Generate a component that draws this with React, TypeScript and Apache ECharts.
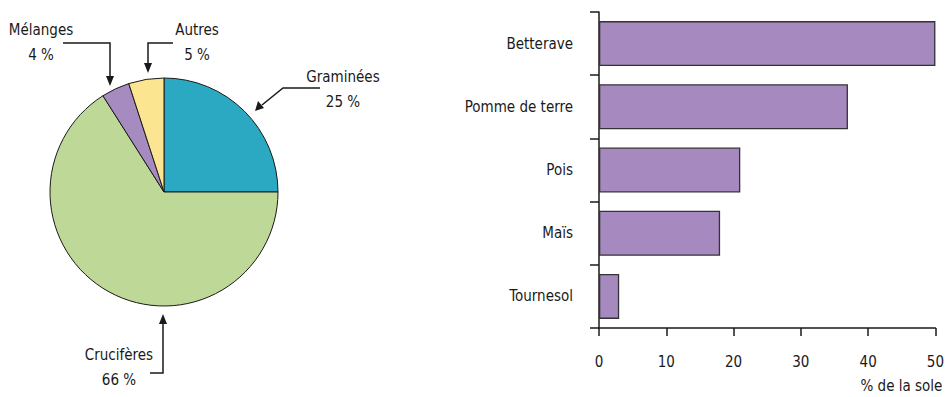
import React, { useEffect, useRef } from "react";
import * as echarts from "echarts";

const pieNames = ["Graminées", "Crucifères", "Mélanges", "Autres"];
const pieValues = [25, 66, 4, 5];
const pieColors = ["#2BA9C3", "#BED898", "#A68BC0", "#FBE590"];

const barCategories = ["Betterave", "Pomme de terre", "Pois", "Maïs", "Tournesol"];
const barValues = [50, 37, 21, 18, 3];
const xTicks = [0, 10, 20, 30, 40, 50];

const FONT = "'DejaVu Sans Condensed', 'Liberation Sans Narrow', sans-serif";
const INK = "#1a1a1a";

// label centre positions (layout only)
const labelPos: Record<string, [number, number]> = {
  "Graminées": [343, 89],
  "Crucifères": [119, 367],
  "Mélanges": [41, 42],
  "Autres": [197, 42],
};

export default function App() {
  const ref = useRef<HTMLDivElement>(null);
  useEffect(() => {
    const chart = echarts.init(ref.current!, undefined, { renderer: "svg" });
    const arrowHead = (x: number, y: number, dir: string) => {
      let pts: number[][] = [];
      if (dir === "down") pts = [[x, y], [x - 4, y - 10], [x + 4, y - 10]];
      if (dir === "up") pts = [[x, y], [x - 4, y + 10], [x + 4, y + 10]];
      if (dir === "dl") pts = [[x, y], [x + 3, y - 10], [x + 9, y - 3]];
      return { type: "polygon", shape: { points: pts }, style: { fill: INK } };
    };
    const line = (pts: number[][]) => ({
      type: "polyline",
      shape: { points: pts },
      style: { stroke: INK, lineWidth: 1.5, fill: "none" },
    });
    const pieLabels = pieNames.map((n, i) => ({
      type: "text",
      x: labelPos[n][0],
      y: labelPos[n][1],
      style: {
        text: n + "\n" + pieValues[i] + " %",
        fontSize: 15,
        lineHeight: 25,
        fill: INK,
        fontFamily: FONT,
        align: "center",
        verticalAlign: "middle",
      },
    }));
    chart.setOption({
      animation: false,
      textStyle: { fontFamily: FONT },
      grid: { left: 599, right: 9, top: 12, bottom: 69 },
      xAxis: {
        type: "value",
        min: 0,
        max: 50,
        interval: 10,
        splitLine: { show: false },
        axisLine: { show: true, lineStyle: { color: INK, width: 1.5 } },
        axisTick: { show: true, length: 8, lineStyle: { color: INK, width: 1.5 } },
        axisLabel: {
          margin: 26,
          fontSize: 15,
          color: INK,
          fontFamily: FONT,
          formatter: (v: number) => (xTicks.includes(v) ? String(v) : ""),
        },
        name: "% de la sole",
        nameLocation: "end",
        nameGap: 7,
        nameTextStyle: {
          fontSize: 15,
          color: INK,
          fontFamily: FONT,
          align: "right",
          verticalAlign: "top",
          padding: [50, 0, 0, 0],
        },
      },
      yAxis: {
        type: "category",
        inverse: true,
        data: barCategories,
        axisLine: { show: true, lineStyle: { color: INK, width: 1.5 } },
        axisTick: { show: true, length: 9, lineStyle: { color: INK, width: 1.5 } },
        axisLabel: { margin: 26, fontSize: 15, color: INK, fontFamily: FONT },
      },
      series: [
        {
          type: "bar",
          data: barValues,
          barWidth: 45,
          itemStyle: { color: "#A68ABF", borderColor: "#333", borderWidth: 1.3 },
        },
        {
          type: "pie",
          center: [164, 192],
          radius: 114,
          startAngle: 90,
          clockwise: true,
          data: pieNames.map((n, i) => ({
            name: n,
            value: pieValues[i],
            itemStyle: { color: pieColors[i] },
          })),
          itemStyle: { borderColor: INK, borderWidth: 1 },
          label: { show: false },
          labelLine: { show: false },
          emphasis: { disabled: true },
        },
      ],
      graphic: [
        ...pieLabels,
        line([[63, 43], [110, 43], [110, 76]]),
        arrowHead(110, 86, "down"),
        line([[173, 43], [148, 43], [148, 63]]),
        arrowHead(148, 73, "down"),
        line([[320, 88], [283, 88], [262, 105]]),
        arrowHead(255, 111, "dl"),
        line([[150, 373], [163, 373], [163, 324]]),
        arrowHead(163, 314, "up"),
      ],
    });
    return () => chart.dispose();
  }, []);
  return (
    <div
      ref={ref}
      style={{ position: "absolute", left: 0, top: 0, width: 947, height: 397 }}
    />
  );
}
